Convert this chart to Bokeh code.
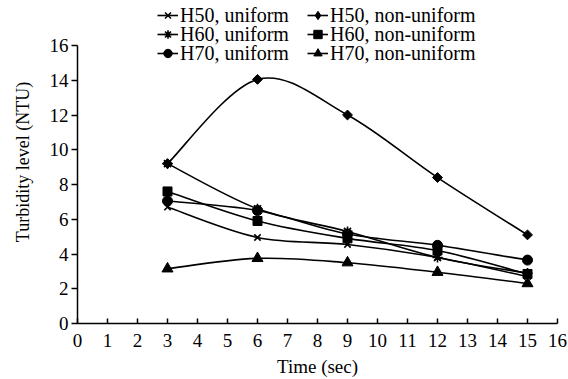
import math
from bokeh.plotting import figure
from bokeh.models import Range1d, Legend, LegendItem, FixedTicker
from bokeh.embed import file_html
from bokeh.resources import INLINE

times = [3, 6, 9, 12, 15]
h50_uniform = [6.7, 4.95, 4.55, 3.8, 2.7]
h60_uniform = [9.2, 6.6, 5.3, 3.8, 2.9]
h70_uniform = [7.05, 6.5, 5.15, 4.5, 3.65]
h50_nonuniform = [9.2, 14.05, 12.0, 8.4, 5.1]
h60_nonuniform = [7.6, 5.9, 4.9, 4.2, 2.85]
h70_nonuniform = [3.15, 3.75, 3.5, 2.95, 2.3]

series_labels = ["H50, uniform", "H60, uniform", "H70, uniform",
                 "H50, non-uniform", "H60, non-uniform", "H70, non-uniform"]

x_ticks = list(range(0, 17))
y_ticks = list(range(0, 17, 2))

FONT = "Liberation Serif"

p = figure(width=568, height=379, output_backend="svg", toolbar_location=None,
           x_range=Range1d(0, 16), y_range=Range1d(0, 18.59),
           min_border_left=77, min_border_right=11, min_border_top=0,
           min_border_bottom=56)
p.outline_line_color = None
p.xgrid.visible = False
p.ygrid.visible = False
p.background_fill_color = "white"

for ax in (p.xaxis, p.yaxis):
    ax.axis_line_color = "black"
    ax.axis_line_width = 1.5
    ax.major_tick_line_color = "black"
    ax.major_tick_line_width = 1.5
    ax.minor_tick_line_color = None
    ax.major_label_text_font = FONT
    ax.major_label_text_font_size = "19px"
    ax.major_label_text_color = "black"
    ax.axis_label_text_font = FONT
    ax.axis_label_text_font_size = "19px"
    ax.axis_label_text_font_style = "normal"
    ax.axis_label_text_color = "black"

p.xaxis.ticker = FixedTicker(ticks=x_ticks)
p.yaxis.ticker = FixedTicker(ticks=y_ticks)
p.xaxis.bounds = (0, 16)
p.yaxis.bounds = (0, 16)
p.xaxis.major_tick_in = 5
p.xaxis.major_tick_out = 0
p.yaxis.major_tick_in = 0
p.yaxis.major_tick_out = 6
p.xaxis.major_label_standoff = 10
p.yaxis.major_label_standoff = 3
p.xaxis.axis_label = "Time (sec)"
p.xaxis.axis_label_standoff = 6
p.yaxis.axis_label = "Turbidity level (NTU)"
p.yaxis.axis_label_text_font_size = "18px"
p.yaxis.axis_label_standoff = 14


def bezier_parts(xs, ys):
    n = len(xs)
    out = {k: [] for k in ("x0", "y0", "x1", "y1", "cx0", "cy0", "cx1", "cy1")}
    for i in range(n - 1):
        ip = i - 1 if i > 0 else i
        inn = i + 2 if i + 2 < n else i + 1
        out["x0"].append(xs[i]); out["y0"].append(ys[i])
        out["x1"].append(xs[i + 1]); out["y1"].append(ys[i + 1])
        out["cx0"].append(xs[i] + (xs[i + 1] - xs[ip]) / 6)
        out["cy0"].append(ys[i] + (ys[i + 1] - ys[ip]) / 6)
        out["cx1"].append(xs[i + 1] - (xs[inn] - xs[i]) / 6)
        out["cy1"].append(ys[i + 1] - (ys[inn] - ys[i]) / 6)
    return out


series = [
    (h50_uniform, dict(marker="x", size=9, line_width=1.6), "x"),
    (h60_uniform, dict(marker="asterisk", size=10, line_width=1.6), "asterisk"),
    (h70_uniform, dict(marker="circle", size=10), "circle"),
    (h50_nonuniform, dict(marker="square", size=7, angle=math.pi / 4), "diamond"),
    (h60_nonuniform, dict(marker="square", size=9), "square"),
    (h70_nonuniform, dict(marker="triangle", size=11), "triangle"),
]

nan = float("nan")
items = []
for vals, mk, legend_marker in series:
    bz = bezier_parts(times, vals)
    p.bezier(**bz, line_color="black", line_width=1.6)
    p.scatter(times, vals, fill_color="black", line_color="black", **mk)
    lr = p.line(x=[nan], y=[nan], line_color="black", line_width=1.6)
    lm = p.scatter(x=[nan], y=[nan], marker=legend_marker, fill_color="black",
                   line_color="black", line_width=mk.get("line_width", 1))
    items.append([lr, lm])

FRAME_BOTTOM = 323
ROW_H = 26
row_centers = [15, 34, 53]
col_x = [80, 230]

for k, (label, rends) in enumerate(zip(series_labels, items)):
    col, row = divmod(k, 3)
    y_loc = FRAME_BOTTOM - (row_centers[row] + ROW_H / 2)
    lg = Legend(items=[LegendItem(label=label, renderers=rends)],
                location=(col_x[col], y_loc), orientation="vertical",
                padding=0, margin=0, spacing=0,
                label_height=ROW_H, glyph_height=ROW_H, glyph_width=21,
                label_standoff=2,
                label_text_font=FONT, label_text_font_size="20px",
                label_text_color="black",
                border_line_color=None, background_fill_alpha=0)
    p.add_layout(lg, "center")

open("out.html", "w").write(file_html(p, INLINE))
